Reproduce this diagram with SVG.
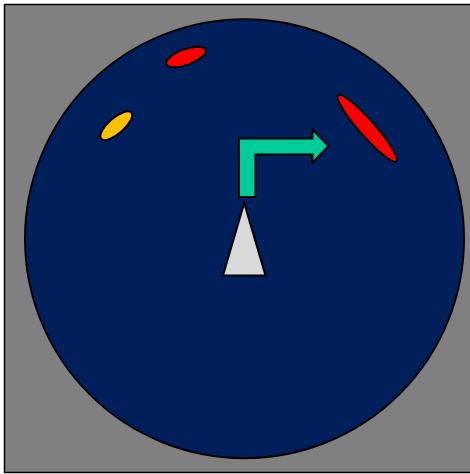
<svg xmlns="http://www.w3.org/2000/svg" width="470" height="474" viewBox="0 0 470 474">
<style>
.s{stroke:#000;stroke-width:2;stroke-linejoin:miter}
.red{fill:#ff0000}
</style>
<rect x="4.5" y="4.5" width="470" height="468" fill="#808080" stroke="#000" stroke-width="1.5"/>
<g id="radar"><circle cx="244.5" cy="238.7" r="219.5" fill="#001f5b" class="s"/></g>
<g id="blip-top"><ellipse cx="0" cy="0" rx="21" ry="7.8" class="s red" transform="translate(186,57) rotate(-20)"/></g>
<g id="blip-yellow"><ellipse cx="0" cy="0" rx="20" ry="7.8" class="s" fill="#ffc000" transform="translate(116.3,125.7) rotate(-41)"/></g>
<g id="blip-right"><ellipse cx="0" cy="0" rx="44" ry="7.8" class="s red" transform="translate(367.3,128.3) rotate(48.6)"/></g>
<g id="turn-arrow"><path d="M239,197 L239,138.5 L312.5,138.5 L312.5,129.5 L328.5,146 L312.5,162.8 L312.5,154.5 L255.5,154.5 L255.5,197 Z" fill="#00cc99" class="s"/></g>
<g id="ownship"><path d="M244.2,203 L223,275.5 L265.5,275.5 Z" fill="#d9d9d9" class="s"/></g>
</svg>
